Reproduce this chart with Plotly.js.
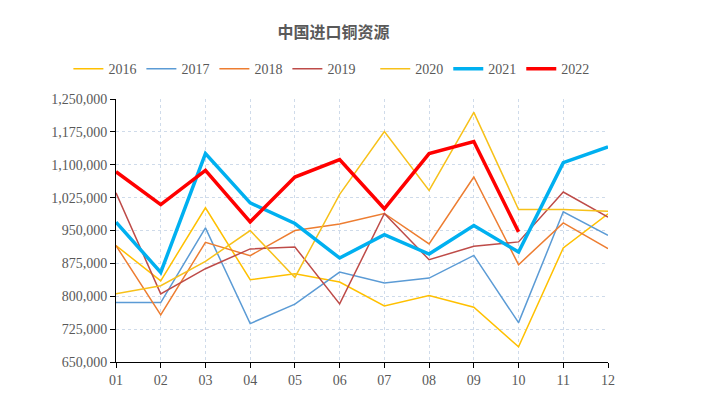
<!DOCTYPE html>
<html>
<head>
<meta charset="utf-8">
<script src="https://cdn.plot.ly/plotly-3.0.1.min.js"></script>
<style>html,body{margin:0;padding:0;background:#fff;}#chart{width:705px;height:399px;}</style>
</head>
<body>
<div id="chart"></div>
<script>
const months = ['01','02','03','04','05','06','07','08','09','10','11','12'];
const s2016 = [915500, 835300, 1001800, 837600, 851300, 832300, 778000, 801700, 775000, 684900, 910200, 988000];
const s2017 = [785700, 785700, 956000, 737600, 782000, 855200, 830000, 841400, 893300, 739800, 992600, 939200];
const s2018 = [915500, 757400, 923000, 892600, 950000, 965000, 988800, 919300, 1072000, 872000, 967400, 908600];
const s2019 = [1036000, 805500, 862800, 908000, 912400, 782600, 988800, 883400, 914000, 924000, 1037700, 980400];
const s2020 = [805500, 823900, 879600, 949900, 843000, 1032300, 1175900, 1041500, 1219500, 998000, 998000, 994200];
const s2021 = [969000, 854400, 1125500, 1013000, 966000, 887200, 940700, 896400, 961300, 901000, 1104900, 1140800];
const s2022 = [1084000, 1009000, 1087000, 969700, 1072000, 1111800, 999500, 1125500, 1153000, 946800];
const yTicks = [650000, 725000, 800000, 875000, 950000, 1025000, 1100000, 1175000, 1250000];

const series = [
  {name:'2016', y:s2016, color:'#FFC000', w:1.5, lg:'legend'},
  {name:'2017', y:s2017, color:'#5B9BD5', w:1.5, lg:'legend'},
  {name:'2018', y:s2018, color:'#ED7D31', w:1.5, lg:'legend'},
  {name:'2019', y:s2019, color:'#BE4B48', w:1.5, lg:'legend'},
  {name:'2020', y:s2020, color:'#F7C11A', w:1.5, lg:'legend2'},
  {name:'2021', y:s2021, color:'#00B0F0', w:3.5, lg:'legend2'},
  {name:'2022', y:s2022, color:'#FF0000', w:3.5, lg:'legend2'}
];

const traces = series.map(s => ({
  type:'scatter', mode:'lines', name:s.name, legend:s.lg,
  x: months.slice(0, s.y.length), y: s.y,
  line:{color:s.color, width:s.w}
}));

const legendBase = {orientation:'h', xref:'container', yref:'container', xanchor:'left', y:0.827, yanchor:'middle',
  font:{family:'"Liberation Serif", serif', size:14, color:'#595959'}, itemwidth:30, tracegroupgap:0, bgcolor:'rgba(0,0,0,0)'};

const layout = {
  width:705, height:399,
  margin:{l:116, r:97, t:99, b:37},
  paper_bgcolor:'#fff', plot_bgcolor:'#fff',
  font:{family:'"Liberation Serif", "Times New Roman", serif', size:14, color:'#595959'},
  title:{text:'<b>中国进口铜资源</b>', x:0.473, xanchor:'center', y:0.92, yanchor:'middle',
    font:{family:'"Noto Sans CJK SC", sans-serif', size:16, color:'#595959'}},
  showlegend:true,
  legend:Object.assign({}, legendBase, {x:0.097}),
  legend2:Object.assign({}, legendBase, {x:0.5323}),
  xaxis:{type:'category', range:[0, 11], showline:true, linecolor:'#000', linewidth:1,
    ticks:'outside', ticklen:5, tickcolor:'#000', showgrid:true, gridcolor:'#CFDBEA', griddash:'3px,3px', gridwidth:1,
    zeroline:false, tickfont:{size:14, color:'#595959'}},
  yaxis:{range:[650000, 1250000], tickvals:yTicks, tickformat:',.0f', showline:true, linecolor:'#000', linewidth:1,
    ticks:'outside', ticklen:5, tickcolor:'#000', showgrid:true, gridcolor:'#CFDBEA', griddash:'3px,3px', gridwidth:1,
    zeroline:false, tickfont:{size:14, color:'#595959'}}
};

Plotly.newPlot('chart', traces, layout, {displayModeBar:false, staticPlot:true});
</script>
</body>
</html>
